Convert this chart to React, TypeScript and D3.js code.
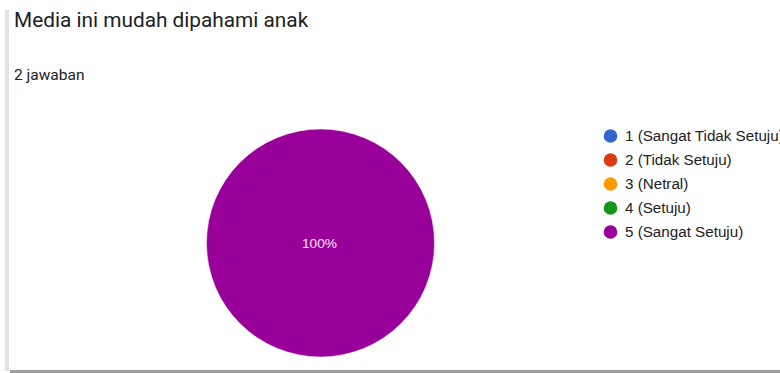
import React from "react";
import * as d3 from "d3";

const categories = ["1 (Sangat Tidak Setuju)", "2 (Tidak Setuju)", "3 (Netral)", "4 (Setuju)", "5 (Sangat Setuju)"];
const counts = [0, 0, 0, 0, 2];
const colors = ["#3366cc", "#dc3912", "#ff9900", "#109618", "#990099"];
const title = "Media ini mudah dipahami anak";
const subtitle = "2 jawaban";

const W = 780;
const H = 373;

export default function App() {
  const cx = 320.5;
  const cy = 243;
  const r = 114;
  const total = d3.sum(counts);
  const pie = d3.pie<number>().sort(null).value((d) => d)(counts);
  const arc = d3.arc<d3.PieArcDatum<number>>().innerRadius(0).outerRadius(r);
  const legendY = d3.scalePoint<number>().domain(d3.range(categories.length)).range([136, 232]);
  const arial = "'Liberation Sans', Arial, sans-serif";

  return (
    <svg
      width={W}
      height={H}
      style={{ position: "fixed", left: 0, top: 0, background: "#fff", fontFamily: "Roboto, Arial, sans-serif" }}
    >
      <rect x={0} y={0} width={W} height={H} fill="#fff" />
      <rect x={5} y={10} width={4} height={361} fill="#e3e3e3" />
      <rect x={10} y={370} width={W - 10} height={3} fill="#9e9e9e" />
      <text x={14} y={27} fontSize={20.8} fill="#202124">{title}</text>
      <text x={14} y={80} fontSize={15.5} fill="#202124">{subtitle}</text>
      <g transform={`translate(${cx},${cy})`}>
        {pie.map((p, i) =>
          p.value > 0 ? (
            <path key={i} d={arc(p) || ""} fill={colors[i]} stroke="#fff" strokeWidth={0.5} />
          ) : null
        )}
        {pie.map((p, i) => {
          if (p.value <= 0) return null;
          const full = p.endAngle - p.startAngle >= 2 * Math.PI - 1e-6;
          const [lx, ly] = full ? [0, 0] : arc.centroid(p);
          return (
            <text key={"l" + i} x={lx - 1} y={ly} dy="0.35em" textAnchor="middle" fontSize={13.7} fontFamily={arial} fill="#fbe3fb">
              {d3.format(".0%")(p.value / total)}
            </text>
          );
        })}
      </g>
      {categories.map((c, i) => (
        <g key={c}>
          <circle cx={610.5} cy={legendY(i)} r={6.8} fill={colors[i]} />
          <text x={625} y={legendY(i)} dy="0.35em" fontSize={15.2} fontFamily={arial} fill="#222">{c}</text>
        </g>
      ))}
    </svg>
  );
}
